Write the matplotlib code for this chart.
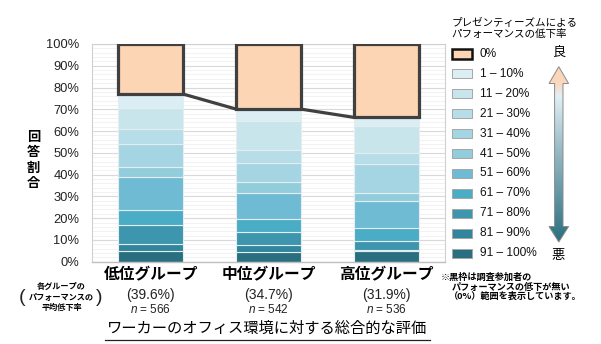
import matplotlib
matplotlib.use('Agg')
import matplotlib.pyplot as plt
import numpy as np
from matplotlib.patches import Rectangle, Polygon
from matplotlib.colors import LinearSegmentedColormap

plt.rcParams['font.family'] = ['Liberation Sans', 'Noto Sans CJK JP', 'DejaVu Sans']
plt.rcParams['mathtext.fontset'] = 'custom'
plt.rcParams['mathtext.it'] = 'Liberation Sans:italic'
plt.rcParams['mathtext.rm'] = 'Liberation Sans'

# ---------------- data ----------------
groups = ['低位グループ', '中位グループ', '高位グループ']
avg_drop = ['(39.6%)', '(34.7%)', '(31.9%)']
sample_n = [566, 542, 536]
levels = ['0%', '1 – 10%', '11 – 20%', '21 – 30%', '31 – 40%', '41 – 50%',
          '51 – 60%', '61 – 70%', '71 – 80%', '81 – 90%', '91 – 100%']
level_colors = ['#FCD5B5', '#DAEEF3', '#C9E5EC', '#B7DDE8', '#A5D5E3', '#92CDDC',
                '#6FBBD3', '#4BACC6', '#3D96AD', '#31859C', '#2A6F80']
low_group = [23.0, 6.6, 9.6, 6.7, 10.8, 4.6, 15.0, 6.8, 8.9, 3.2, 4.8]
mid_group = [29.9, 5.3, 13.5, 6.1, 8.5, 5.3, 11.8, 5.8, 6.1, 3.1, 4.6]
high_group = [33.7, 4.0, 12.2, 5.2, 13.2, 3.7, 12.4, 6.0, 4.3, 0.5, 4.8]
y_ticks = list(range(0, 101, 10))
y_tick_labels = [f'{v}%' for v in y_ticks]

W, H = 601, 344
fig = plt.figure(figsize=(W / 100, H / 100), dpi=100)
ax = fig.add_axes([92 / W, 1 - 261.7 / H, (445 - 92) / W, (261.7 - 44) / H])

x = np.arange(len(groups))
bw = 0.55
data = np.array([low_group, mid_group, high_group])

for k in range(len(levels) - 1, 0, -1):
    bottom = data[:, k + 1:].sum(axis=1)
    ax.bar(x, data[:, k], bottom=bottom, width=bw, color=level_colors[k],
           edgecolor='#e4eef1', linewidth=0.8, zorder=2)
top_bottom = data[:, 1:].sum(axis=1)
ax.bar(x, data[:, 0], bottom=top_bottom, width=bw, color=level_colors[0],
       edgecolor='#404040', linewidth=2.3, zorder=4)
for i in range(len(groups) - 1):
    ax.plot([x[i] + bw / 2, x[i + 1] - bw / 2], [top_bottom[i], top_bottom[i + 1]],
            color='#404040', lw=2.3, zorder=3, solid_capstyle='butt')

ax.set_xlim(-0.5, 2.5)
ax.set_ylim(0, 100)
ax.set_yticks(y_ticks)
ax.set_yticklabels(y_tick_labels, fontsize=9.3, color='#222222')
ax.set_yticks(np.arange(0, 101, 2), minor=True)
ax.grid(axis='y', which='major', color='#d9d9d9', lw=0.8, zorder=0)
ax.grid(axis='y', which='minor', color='#f0f0f0', lw=0.6, zorder=0)
ax.set_axisbelow(True)
ax.tick_params(which='both', length=0)
ax.tick_params(axis='y', pad=9)
ax.set_xticks(x)
ax.set_xticklabels(groups, fontsize=11.3, fontweight='bold',
                   family=['Noto Sans CJK JP'])
ax.tick_params(axis='x', pad=3.5)
for s in ['top', 'right', 'left']:
    ax.spines[s].set_color('#d0d0d0')
    ax.spines[s].set_linewidth(0.8)
ax.spines['bottom'].set_color('#bfbfbf')
ax.spines['bottom'].set_linewidth(1.0)

for i in range(len(groups)):
    ax.annotate(avg_drop[i], xy=(x[i], 0), xycoords='data',
                xytext=(0, -33 * 0.72), textcoords='offset points',
                ha='center', va='center', fontsize=10, color='#222222')
    ax.annotate(f'$n$ = {sample_n[i]}', xy=(x[i], 0), xycoords='data',
                xytext=(0, -48 * 0.72), textcoords='offset points',
                ha='center', va='center', fontsize=8.5, color='#222222')

# ---------------- overlay (pixel coordinates) ----------------
oax = fig.add_axes([0, 0, 1, 1])
oax.set_xlim(0, W)
oax.set_ylim(H, 0)
oax.axis('off')

oax.text(33.3, 160, '回\n答\n割\n合', ha='center', va='center', fontsize=9.5,
         fontweight='bold', linespacing=1.15, family=['Noto Sans CJK JP'])

# left note
oax.text(61.5, 297, '各グループの\nパフォーマンスの\n平均低下率', ha='center', va='center',
         fontsize=5.9, fontweight='bold', linespacing=1.25, family=['Noto Sans CJK JP'])
oax.text(22, 298, '(', ha='center', va='center', fontsize=14, color='#222222')
oax.text(99, 298, ')', ha='center', va='center', fontsize=14, color='#222222')

# right note
oax.text(441, 277, '※黒枠は調査参加者の', ha='left', va='center', fontsize=6.6,
         fontweight='bold', family=['Noto Sans CJK JP'])
oax.text(451.5, 287, 'パフォーマンスの低下が無い', ha='left', va='center', fontsize=6.6,
         fontweight='bold', family=['Noto Sans CJK JP'])
oax.text(449, 296.5, '（0%）範囲を表示しています。', ha='left', va='center', fontsize=6.6,
         fontweight='bold', family=['Noto Sans CJK JP'])

# title
oax.text(267.5, 328.7, 'ワーカーのオフィス環境に対する総合的な評価', ha='center', va='center',
         fontsize=11, family=['Noto Sans CJK JP'])
oax.plot([105, 430], [339.5, 339.5], color='#222222', lw=0.9)

# legend
oax.text(451.7, 28.5, 'プレゼンティーズムによる\nパフォーマンスの低下率', ha='left', va='center',
         fontsize=7.6, linespacing=1.2, family=['Noto Sans CJK JP'])
for k, lab in enumerate(levels):
    yc = 53.8 + k * 19.95
    if k == 0:
        r = Rectangle((451.7, yc - 4.7), 20, 9.4, facecolor=level_colors[k],
                      edgecolor='#111111', lw=1.8)
    else:
        r = Rectangle((451.7, yc - 4.7), 20, 9.4, facecolor=level_colors[k],
                      edgecolor='#a6a6a6', lw=0.7)
    oax.add_patch(r)
    oax.text(480, yc, lab, ha='left', va='center', fontsize=8.6, color='#111111')

oax.text(558.5, 52.5, '良', ha='center', va='center', fontsize=9.5,
         family=['Noto Sans CJK JP'])
oax.text(558.5, 255, '悪', ha='center', va='center', fontsize=9.5,
         family=['Noto Sans CJK JP'])

# gradient double arrow
cx = 558.8
pts = [(cx, 66.7), (cx + 9.8, 83.5), (cx + 4.2, 83.5), (cx + 4.2, 226.5), (cx + 9.8, 226.5),
       (cx, 242), (cx - 9.8, 226.5), (cx - 4.2, 226.5), (cx - 4.2, 83.5), (cx - 9.8, 83.5)]
arrow = Polygon(pts, closed=True, facecolor='none', edgecolor='#8a8a8a', lw=0.7, zorder=3)
oax.add_patch(arrow)
cmap = LinearSegmentedColormap.from_list('g', [(0.0, '#FCD5B5'), (0.10, '#FAD8BE'),
                                               (0.17, '#E2F0F4'), (0.45, '#9dbfc9'),
                                               (1.0, '#2A6F80')])
grad = np.linspace(0, 1, 256).reshape(-1, 1)
im = oax.imshow(grad, cmap=cmap, extent=[cx - 10, cx + 10, 242, 66.7], origin='upper',
                aspect='auto', zorder=2)
im.set_clip_path(arrow)
oax.set_xlim(0, W)
oax.set_ylim(H, 0)

fig.savefig('out.png', dpi=100)
